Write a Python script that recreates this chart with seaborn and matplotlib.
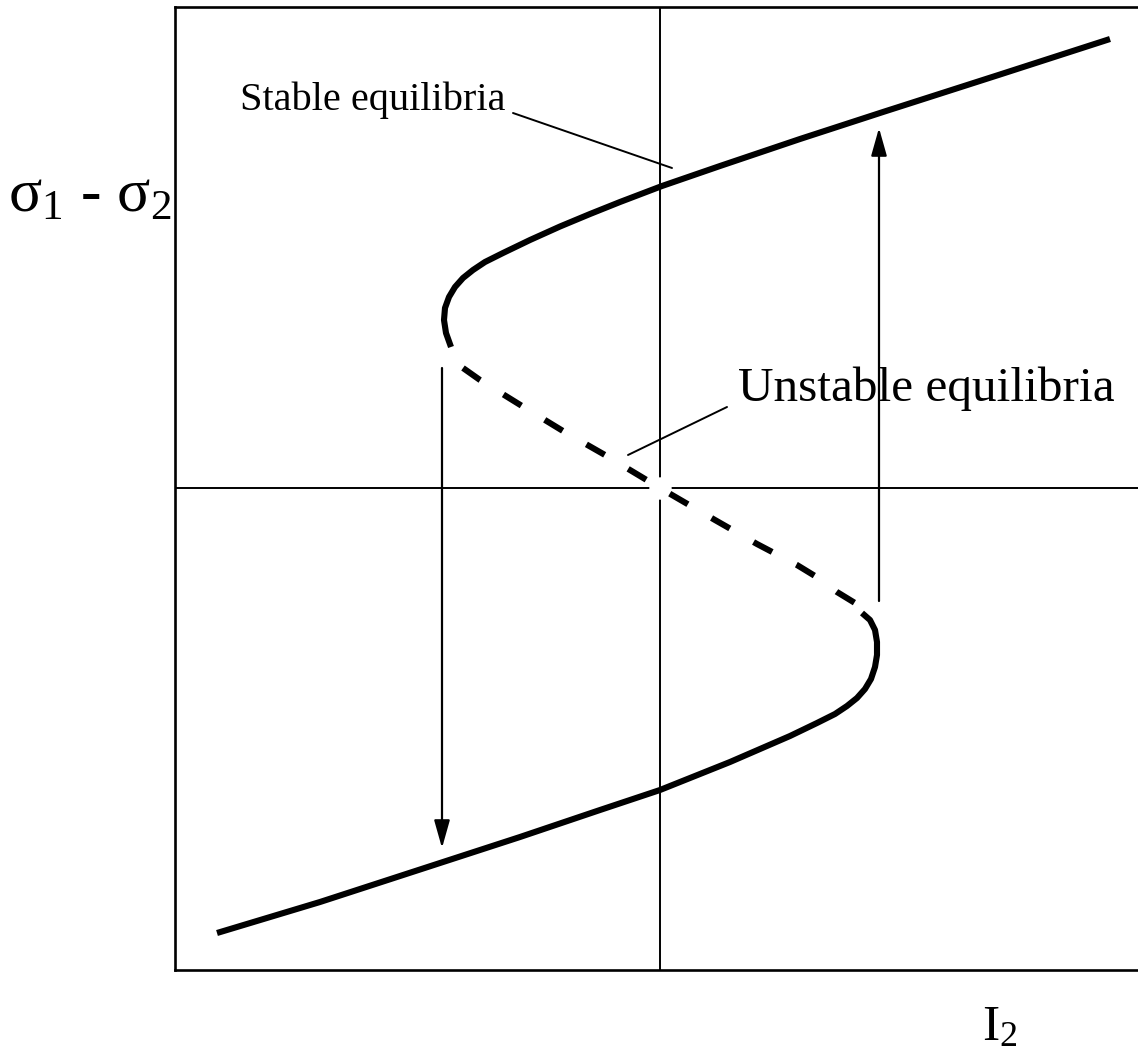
import matplotlib
matplotlib.use("Agg")
import matplotlib.pyplot as plt
import pandas as pd
import seaborn as sns

# Lower stable branch: from the far left up to the right-hand fold
lower_i2 = [-4.43, -3.40, -2.20, -1.40, -0.60, 0.00, 0.40, 0.70, 1.00, 1.30, 1.57,
            1.75, 1.87, 1.97, 2.05, 2.11, 2.15, 2.17, 2.17, 2.15, 2.10, 2.02]
lower_sigma = [-4.45, -4.14, -3.75, -3.49, -3.22, -3.02, -2.86, -2.74, -2.61, -2.48, -2.35,
               -2.26, -2.18, -2.10, -2.01, -1.91, -1.79, -1.67, -1.54, -1.42, -1.32, -1.25]

# Unstable branch joining the two folds
mid_i2 = [-1.97, -1.80, -1.38, -0.97, -0.55, 0.00, 0.55, 0.97, 1.37, 1.55, 1.77, 1.95]
mid_sigma = [1.20, 1.08, 0.82, 0.57, 0.33, 0.00, -0.32, -0.56, -0.77, -0.88, -1.04, -1.15]

# Upper stable branch: from the left-hand fold out to the far right
upper_i2 = [-2.09, -2.14, -2.16, -2.15, -2.11, -2.05, -1.97, -1.87, -1.75, -1.57,
            -1.30, -1.00, -0.70, -0.40, 0.02, 0.60, 1.40, 2.23, 3.40, 4.50]
upper_sigma = [1.41, 1.55, 1.68, 1.80, 1.91, 2.01, 2.10, 2.18, 2.26, 2.35,
               2.48, 2.615, 2.74, 2.86, 3.02, 3.22, 3.49, 3.76, 4.135, 4.49]

# Jumps between branches (start, end)
jump_down = ((-2.18, 1.20), (-2.18, -3.60))
jump_up = ((2.19, -1.13), (2.19, 3.60))

label_stable = "Stable equilibria"
label_unstable = "Unstable equilibria"

sns.set_theme(style="white")
plt.rcParams["font.family"] = ["Liberation Serif", "DejaVu Serif"]
plt.rcParams["mathtext.fontset"] = "custom"
plt.rcParams["mathtext.rm"] = "Liberation Serif"
plt.rcParams["mathtext.it"] = "Liberation Serif:italic"
plt.rcParams["text.color"] = "black"

W, H = 1138, 1052
fig = plt.figure(figsize=(W / 100, H / 100), dpi=100)
fig.patch.set_facecolor("white")
ax = fig.add_axes([175 / W, (H - 970) / H, 1 - 175 / W, (970 - 7) / H])
ax.set_facecolor("white")

ax.set_xlim(-4.85, 4.78)
ax.set_ylim(-4.82, 4.81)
ax.set_xticks([])
ax.set_yticks([])
for side in ("left", "top", "bottom"):
    ax.spines[side].set_visible(True)
    ax.spines[side].set_color("black")
    ax.spines[side].set_linewidth(1.9)
ax.spines["right"].set_visible(False)

# Coordinate cross through the origin, with a small break at the centre
ax.axvline(0, color="black", lw=1.4, zorder=1)
ax.axhline(0, color="black", lw=1.4, zorder=1)
ax.scatter([0], [0], s=260, color="white", zorder=2, linewidths=0)

lower = pd.DataFrame({"I2": lower_i2, "sigma": lower_sigma})
mid = pd.DataFrame({"I2": mid_i2, "sigma": mid_sigma})
upper = pd.DataFrame({"I2": upper_i2, "sigma": upper_sigma})

curve_lw = 4.4
for branch in (lower, upper):
    sns.lineplot(data=branch, x="I2", y="sigma", sort=False, estimator=None, ax=ax,
                 color="black", lw=curve_lw, solid_capstyle="butt",
                 solid_joinstyle="round", zorder=4)
sns.lineplot(data=mid, x="I2", y="sigma", sort=False, estimator=None, ax=ax,
             color="black", lw=curve_lw, linestyle=(0, (3.44, 4.48)),
             dash_capstyle="butt", zorder=4)

arrow_kw = dict(arrowstyle="-|>,head_length=0.85,head_width=0.24",
                color="black", lw=1.6, shrinkA=0, shrinkB=0, mutation_scale=20)
for (x0, y0), (x1, y1) in (jump_down, jump_up):
    ax.annotate("", xy=(x1, y1), xytext=(x0, y0), arrowprops=arrow_kw, zorder=3)

# Labels with leader lines
ax.text(-4.20, 3.78, label_stable, fontsize=29, ha="left", va="baseline", color="black")
ax.plot([-1.47, 0.12], [3.75, 3.20], color="black", lw=1.4)
ax.text(0.78, 0.87, label_unstable, fontsize=35.5, ha="left", va="baseline", color="black")
ax.plot([0.67, -0.32], [0.81, 0.33], color="black", lw=1.4)

# Axis labels placed outside the frame
fig.text(8 / W, 1 - 212 / H, "σ$_1$ - σ$_2$", fontsize=44.5, ha="left", va="baseline",
         color="black")
fig.text(982 / W, 1 - 1040 / H, "I$_2$", fontsize=37, ha="left", va="baseline",
         color="black")

fig.savefig("out.png", dpi=100, facecolor="white")
